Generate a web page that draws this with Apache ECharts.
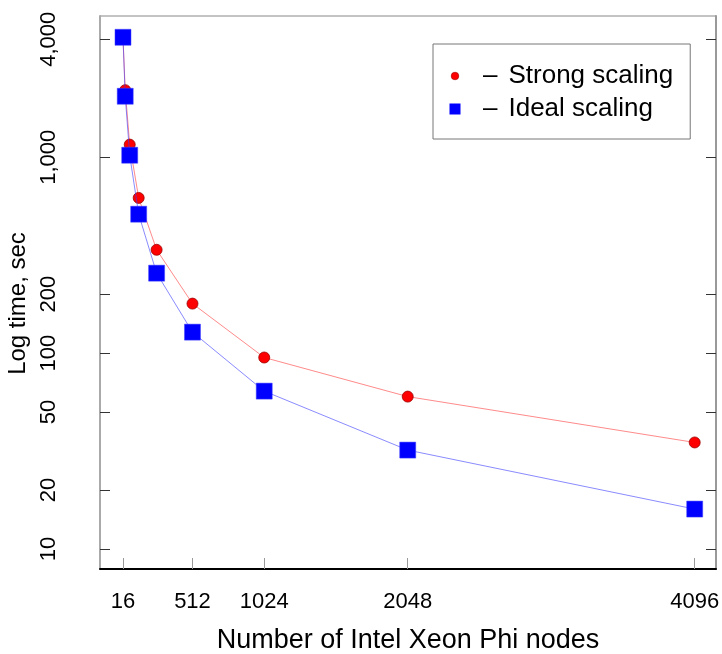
<!DOCTYPE html>
<html>
<head>
<meta charset="utf-8">
<script src="https://cdn.jsdelivr.net/npm/echarts@6/dist/echarts.min.js"></script>
<style>
  html, body { margin: 0; padding: 0; background: #fff; }
  #chart { width: 722px; height: 654px; }
</style>
</head>
<body>
<div id="chart"></div>
<script>
// ---- data ----
const nodes = [16, 32, 64, 128, 256, 512, 1024, 2048, 4096];
const strongScaling = [4096, 2200, 1160, 620, 337, 179, 95, 60, 35];
const idealScaling = [4096, 2048, 1024, 512, 256, 128, 64, 32, 16];
const xTickValues = [16, 512, 1024, 2048, 4096];
const yTickValues = [10, 20, 50, 100, 200, 1000, 4000];
const seriesNames = ['Strong scaling', 'Ideal scaling'];

const FONT = 'Liberation Sans, Arial, sans-serif';
const toPairs = (xs, ys) => xs.map((x, i) => [x, ys[i]]);
const fmtComma = v => Math.round(v).toLocaleString('en-US');

const redDot = 'image://data:image/svg+xml;utf8,' + encodeURIComponent(
  '<svg xmlns="http://www.w3.org/2000/svg" width="14" height="14"><circle cx="7" cy="7" r="3.8" fill="#ff0000" stroke="#a00000" stroke-width="0.6"/></svg>');
const blueSq = 'image://data:image/svg+xml;utf8,' + encodeURIComponent(
  '<svg xmlns="http://www.w3.org/2000/svg" width="14" height="14"><rect x="1.5" y="1.5" width="11" height="11" fill="#0000ff"/></svg>');

const chart = echarts.init(document.getElementById('chart'), null, { renderer: 'canvas' });
chart.setOption({
  animation: false,
  backgroundColor: '#ffffff',
  textStyle: { fontFamily: FONT },
  grid: {
    left: 100, top: 16, right: 6, bottom: 85,
    outerBoundsMode: 'none', containLabel: false,
    show: true, borderColor: '#888', borderWidth: 1
  },
  legend: {
    orient: 'vertical',
    left: 433, top: 44,
    padding: [19, 17, 17, 15],
    borderColor: '#777', borderWidth: 1,
    itemWidth: 14, itemHeight: 14, itemGap: 7,
    data: [
      { name: seriesNames[0], icon: redDot },
      { name: seriesNames[1], icon: blueSq }
    ],
    formatter: name => '{d|–}' + name,
    textStyle: {
      fontFamily: FONT, fontSize: 26, color: '#000', lineHeight: 26,
      rich: { d: { fontFamily: FONT, fontSize: 26, padding: [0, 11, 0, 16] } }
    }
  },
  xAxis: {
    type: 'value',
    min: -148, max: 4248,
    name: 'Number of Intel Xeon Phi nodes',
    nameLocation: 'middle', nameGap: 58,
    nameTextStyle: { fontFamily: FONT, fontSize: 27, color: '#000' },
    splitLine: { show: false },
    axisLine: { show: true, onZero: false, lineStyle: { color: '#000', width: 2 } },
    axisTick: { show: true, inside: true, length: 11, lineStyle: { color: '#999' }, customValues: xTickValues },
    axisLabel: { fontFamily: FONT, fontSize: 22, color: '#000', margin: 22, customValues: xTickValues, formatter: v => String(v) }
  },
  yAxis: [{
    type: 'log',
    logBase: 10,
    min: 7.91, max: 5260,
    name: 'Log time, sec',
    nameLocation: 'middle', nameGap: 68,
    nameTextStyle: { fontFamily: FONT, fontSize: 24, color: '#000', padding: [0, 22, 0, 0] },
    splitLine: { show: false },
    axisLine: { show: true, onZero: false, lineStyle: { color: '#aaa', width: 2 } },
    axisTick: { show: true, inside: true, length: 10, lineStyle: { color: '#333' }, customValues: yTickValues },
    axisLabel: { fontFamily: FONT, fontSize: 22, color: '#000', rotate: 90, margin: 40, customValues: yTickValues, formatter: v => fmtComma(v) }
  }, {
    type: 'log',
    logBase: 10,
    min: 7.91, max: 5260,
    position: 'right',
    splitLine: { show: false },
    axisLine: { show: true, onZero: false, lineStyle: { color: '#999', width: 2 } },
    axisTick: { show: true, inside: true, length: 10, lineStyle: { color: '#333' }, customValues: yTickValues },
    axisLabel: { show: false }
  }],
  series: [{
    name: seriesNames[0],
    type: 'line',
    data: toPairs(nodes, strongScaling),
    symbol: 'circle', symbolSize: 11,
    itemStyle: { color: '#ff0000', borderColor: '#9a0000', borderWidth: 0.8 },
    lineStyle: { color: 'rgba(255,60,60,0.6)', width: 1 },
    z: 2
  }, {
    name: seriesNames[1],
    type: 'line',
    data: toPairs(nodes, idealScaling),
    symbol: 'rect', symbolSize: 16,
    itemStyle: { color: '#0000ff', borderColor: '#4040ff', borderWidth: 0.5 },
    lineStyle: { color: 'rgba(60,60,255,0.6)', width: 1 },
    z: 3
  }]
});
</script>
</body>
</html>
